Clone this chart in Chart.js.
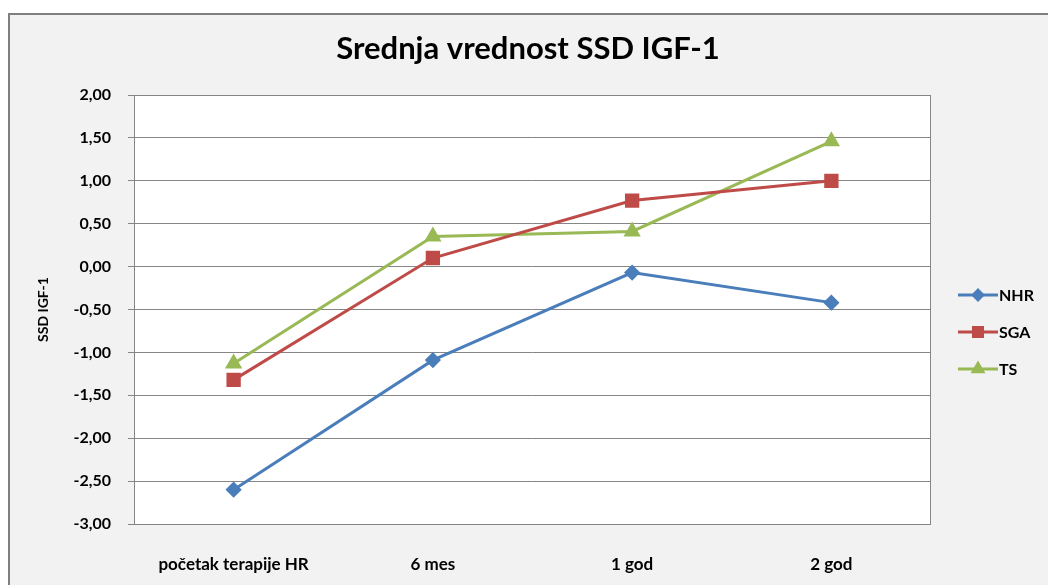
<!DOCTYPE html>
<html>
<head>
<meta charset="utf-8">
<script src="https://cdn.jsdelivr.net/npm/chart.js@4/dist/chart.umd.min.js"></script>
<style>
  html, body { margin: 0; padding: 0; background: #ffffff; }
  #wrap { width: 1048px; height: 585px; }
</style>
</head>
<body>
<div id="wrap"><canvas id="igfChart" width="1048" height="585"></canvas></div>
<script>
// Podaci sa grafika
const kategorije = ['početak terapije HR', '6 mes', '1 god', '2 god'];
const nhr = [-2.60, -1.09, -0.07, -0.42];
const sga = [-1.32, 0.10, 0.77, 1.00];
const ts = [-1.13, 0.35, 0.41, 1.46];
const yMin = -3, yMax = 2, yKorak = 0.5;
const naslov = 'Srednja vrednost SSD IGF-1';

const fontFam = "Lato, 'Open Sans', sans-serif";

// Pozadina okvira, naslov i legenda
const pozadina = {
    id: 'pozadina',
    beforeDraw(chart) {
        const ctx = chart.ctx;
        const a = chart.chartArea;
        ctx.save();
        ctx.fillStyle = '#f2f2f2';
        ctx.fillRect(8, 13, chart.width - 8, chart.height - 13);
        ctx.strokeStyle = '#7f7f7f';
        ctx.lineWidth = 2;
        ctx.beginPath();
        ctx.moveTo(9, chart.height);
        ctx.lineTo(9, 14);
        ctx.lineTo(chart.width, 14);
        ctx.stroke();
        ctx.fillStyle = '#ffffff';
        ctx.fillRect(a.left, a.top, a.right - a.left, a.bottom - a.top);
        ctx.restore();
    },
    afterDraw(chart) {
        const ctx = chart.ctx;
        const a = chart.chartArea;
        ctx.save();
        ctx.strokeStyle = '#868686';
        ctx.lineWidth = 1;
        ctx.strokeRect(a.left + 0.5, a.top + 0.5, a.right - a.left - 1, a.bottom - a.top);

        // naslov
        ctx.fillStyle = '#000000';
        ctx.font = 'bold 31px ' + fontFam;
        ctx.textAlign = 'center';
        ctx.textBaseline = 'middle';
        ctx.fillText(naslov, 528, 49);

        // legenda: linija + marker + tekst
        const ys = [295, 332, 369];
        chart.data.datasets.forEach((ds, i) => {
            const y = ys[i];
            ctx.strokeStyle = ds.borderColor;
            ctx.lineWidth = 3;
            ctx.beginPath();
            ctx.moveTo(958, y);
            ctx.lineTo(998, y);
            ctx.stroke();
            ctx.fillStyle = ds.pointBackgroundColor;
            ctx.strokeStyle = ds.pointBorderColor;
            Chart.helpers.drawPoint(ctx, {
                pointStyle: ds.pointStyle,
                radius: ds.pointRadius * 0.8,
                rotation: 0,
                borderWidth: 1
            }, 978, y);
            ctx.fillStyle = '#000000';
            ctx.font = 'bold 16px ' + fontFam;
            ctx.textBaseline = 'middle';
            ctx.textAlign = 'left';
            ctx.fillText(ds.label, 999, y + 1);
        });
        ctx.restore();
    }
};

const ctxIgf = document.getElementById('igfChart').getContext('2d');
const igfChart = new Chart(ctxIgf, {
    type: 'line',
    data: {
        labels: kategorije,
        datasets: [{
            label: 'NHR',
            data: nhr,
            borderColor: '#4a7ebb',
            backgroundColor: '#4a7ebb',
            pointBackgroundColor: '#4a7ebb',
            pointBorderColor: '#4a7ebb',
            pointStyle: 'rectRot',
            pointRadius: 6,
            borderWidth: 3
        }, {
            label: 'SGA',
            data: sga,
            borderColor: '#be4b48',
            backgroundColor: '#be4b48',
            pointBackgroundColor: '#be4b48',
            pointBorderColor: '#be4b48',
            pointStyle: 'rect',
            pointRadius: 8,
            borderWidth: 3
        }, {
            label: 'TS',
            data: ts,
            borderColor: '#98b954',
            backgroundColor: '#98b954',
            pointBackgroundColor: '#98b954',
            pointBorderColor: '#98b954',
            pointStyle: 'triangle',
            pointRadius: 7,
            borderWidth: 3
        }]
    },
    options: {
        responsive: false,
        animation: false,
        layout: { padding: { left: 0, right: 117, top: 95, bottom: 0 } },
        plugins: {
            legend: { display: false },
            tooltip: { enabled: false },
            title: { display: false }
        },
        scales: {
            x: {
                offset: true,
                grid: { display: false },
                border: { display: false },
                ticks: {
                    color: '#000000',
                    font: { family: fontFam, size: 17, weight: 'bold' },
                    maxRotation: 0,
                    padding: 22
                },
                afterFit(scale) { scale.height = 61; }
            },
            y: {
                min: yMin,
                max: yMax,
                ticks: {
                    stepSize: yKorak,
                    color: '#000000',
                    font: { family: fontFam, size: 16, weight: 'bold' },
                    padding: 17,
                    callback: v => v.toFixed(2).replace('.', ',')
                },
                grid: { color: '#868686', tickLength: 6, tickColor: '#868686' },
                border: { display: false },
                title: {
                    display: true,
                    text: 'SSD IGF-1',
                    color: '#000000',
                    font: { family: fontFam, size: 14, weight: 'bold' },
                    padding: { top: 35, bottom: 0 }
                },
                afterFit(scale) { scale.width = 134; }
            }
        }
    },
    plugins: [pozadina]
});
</script>
</body>
</html>
